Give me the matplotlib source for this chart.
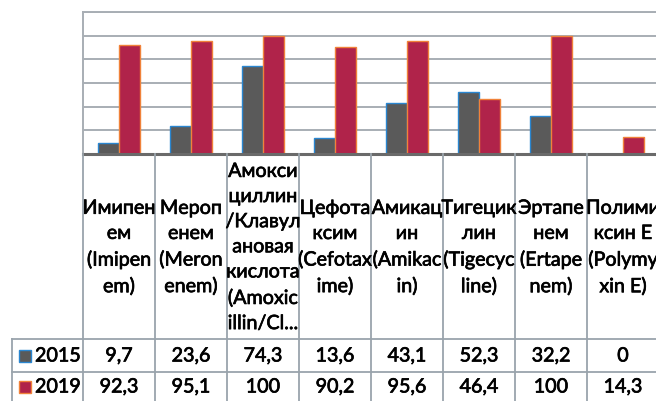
import matplotlib.pyplot as plt
import matplotlib.patheffects as pe
import numpy as np

plt.rcParams['font.family'] = ['Lato', 'Noto Sans', 'DejaVu Sans']

drugs = [
    "Имипен\nем\n(Imipen\nem)",
    "Мероп\nенем\n(Meron\nenem)",
    "Амокси\nциллин\n/Клавул\nановая\nкислота\n(Amoxic\nillin/Cl...",
    "Цефота\nксим\n(Cefotax\nime)",
    "Амикац\nин\n(Amikac\nin)",
    "Тигецик\nлин\n(Tigecyc\nline)",
    "Эртапе\nнем\n(Ertape\nnem)",
    "Полими\nксин Е\n(Polymy\nxin E)",
]
years = ["2015", "2019"]
vals_2015 = [9.7, 23.6, 74.3, 13.6, 43.1, 52.3, 32.2, 0]
vals_2019 = [92.3, 95.1, 100, 90.2, 95.6, 46.4, 100, 14.3]

fill = ["#5a5a5a", "#b0234a"]
edge = ["#2a86d0", "#f0823a"]
grid_c = "#a8aeb4"

W, H = 656, 401
left, top, base = 83, 12, 154   # pixel frame of the plot area
col_w = 72
hdr_bot, row1_bot, row2_bot = 339, 372, 403
leg_left = 12

fig = plt.figure(figsize=(W / 100, H / 100), dpi=100)
ax = fig.add_axes([left / W, (H - base) / H, (W - left) / W, (base - top) / H])

n = len(drugs)
x = np.arange(n)
bw = 0.29
for k, vals in enumerate([vals_2015, vals_2019]):
    ax.bar(x + (k - 0.5) * bw, vals, bw, color=fill[k], edgecolor=edge[k],
           linewidth=1.0, zorder=3)

ax.set_xlim(-0.5, -0.5 + (W - left) / col_w)
ax.set_ylim(0, 120)
ax.set_yticks(np.arange(0, 121, 20))
ax.yaxis.grid(True, color=grid_c, linewidth=1.4, zorder=0)
ax.tick_params(left=False, bottom=False, labelleft=False, labelbottom=False)
ax.spines["right"].set_visible(False)
for s in ["top", "left"]:
    ax.spines[s].set_color(grid_c)
    ax.spines[s].set_linewidth(1.4)
ax.spines["bottom"].set_color("#6a6a6a")
ax.spines["bottom"].set_linewidth(2.2)
ax.spines["bottom"].set_zorder(4)

# data table under the plot, drawn in pixel coordinates
tab = fig.add_axes([0, 0, 1, 1])
tab.set_xlim(0, W)
tab.set_ylim(H, 0)
tab.axis("off")

lc = "#9aa4ac"
lw = 1.3
for i in range(n + 1):
    xb = left + col_w * i
    tab.plot([xb, xb], [base, H], color=lc, lw=lw)
tab.plot([leg_left, leg_left], [hdr_bot, H], color=lc, lw=lw)
for yb in [hdr_bot, row1_bot]:
    tab.plot([leg_left, W], [yb, yb], color=lc, lw=lw)

fs = 14.2
heavy = [pe.withStroke(linewidth=0.5, foreground="black")]
txt = dict(fontsize=fs, color="black", path_effects=heavy)

for i, name in enumerate(drugs):
    cx = left + col_w * (i + 0.5)
    tab.text(cx, (base + hdr_bot) / 2 + 1, name, ha="center", va="center",
             linespacing=1.58, **txt)
    tab.text(cx, 356, f"{vals_2015[i]:g}".replace(".", ","),
             ha="center", va="center", **txt)
    tab.text(cx, 387, f"{vals_2019[i]:g}".replace(".", ","),
             ha="center", va="center", **txt)

for k, cy in enumerate([356, 387]):
    tab.add_patch(plt.Rectangle((19, cy - 6), 12, 12, facecolor=fill[k],
                                edgecolor=edge[k], lw=1.0))
    tab.text(35, cy, years[k], ha="left", va="center", **txt)

fig.savefig("out.png", dpi=100)
